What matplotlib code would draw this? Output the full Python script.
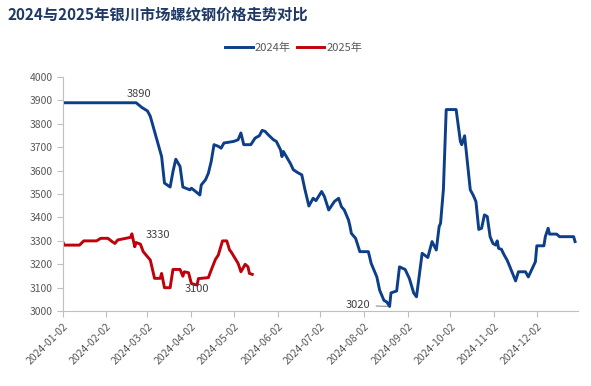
import matplotlib
matplotlib.use("Agg")
import matplotlib.pyplot as plt
import matplotlib.dates as mdates
import pandas as pd

plt.rcParams['font.family'] = ['Noto Sans CJK SC', 'DejaVu Sans']

title = "2024与2025年银川市场螺纹钢价格走势对比"
series_names = ["2024年", "2025年"]

dates_2024 = ["2024-01-02", "2024-02-23", "2024-02-27", "2024-03-02", "2024-03-04", "2024-03-08",
              "2024-03-12", "2024-03-14", "2024-03-18", "2024-03-20", "2024-03-22", "2024-03-25",
              "2024-03-27", "2024-04-01", "2024-04-02", "2024-04-05", "2024-04-08", "2024-04-09",
              "2024-04-12", "2024-04-14", "2024-04-16", "2024-04-18", "2024-04-21", "2024-04-23",
              "2024-04-25", "2024-05-02", "2024-05-05", "2024-05-07", "2024-05-09", "2024-05-14",
              "2024-05-17", "2024-05-20", "2024-05-22", "2024-05-24", "2024-05-27", "2024-05-30",
              "2024-06-01", "2024-06-04", "2024-06-05", "2024-06-06", "2024-06-11", "2024-06-13",
              "2024-06-16", "2024-06-19", "2024-06-21", "2024-06-24", "2024-06-27", "2024-06-29",
              "2024-07-03", "2024-07-05", "2024-07-08", "2024-07-12", "2024-07-15", "2024-07-17",
              "2024-07-19", "2024-07-22", "2024-07-23", "2024-07-24", "2024-07-27", "2024-07-30",
              "2024-08-05", "2024-08-07", "2024-08-11", "2024-08-13", "2024-08-16", "2024-08-18",
              "2024-08-20", "2024-08-21", "2024-08-25", "2024-08-27", "2024-08-31", "2024-09-03",
              "2024-09-06", "2024-09-08", "2024-09-12", "2024-09-16", "2024-09-19", "2024-09-22",
              "2024-09-24", "2024-09-25", "2024-09-27", "2024-09-29", "2024-10-06", "2024-10-09",
              "2024-10-10", "2024-10-12", "2024-10-16", "2024-10-18", "2024-10-20", "2024-10-22",
              "2024-10-24", "2024-10-26", "2024-10-28", "2024-10-30", "2024-11-01", "2024-11-03",
              "2024-11-04", "2024-11-05", "2024-11-07", "2024-11-09", "2024-11-11", "2024-11-13",
              "2024-11-17", "2024-11-19", "2024-11-24", "2024-11-26", "2024-12-01", "2024-12-02",
              "2024-12-07", "2024-12-08", "2024-12-10", "2024-12-11", "2024-12-16", "2024-12-18",
              "2024-12-28", "2024-12-29"]
prices_2024 = [3890, 3890, 3870, 3855, 3832, 3746,
               3660, 3547, 3530, 3596, 3649, 3618,
               3530, 3518, 3525, 3511, 3496, 3539,
               3561, 3589, 3639, 3711, 3704, 3696,
               3718, 3725, 3732, 3761, 3711, 3711,
               3739, 3749, 3772, 3768, 3749, 3732,
               3725, 3689, 3660, 3682, 3630, 3604,
               3592, 3582, 3525, 3449, 3482, 3472,
               3511, 3489, 3432, 3468, 3482, 3446,
               3432, 3389, 3364, 3332, 3311, 3254,
               3254, 3204, 3146, 3089, 3046, 3039,
               3020, 3078, 3086, 3189, 3178, 3139,
               3078, 3061, 3247, 3229, 3297, 3261,
               3361, 3375, 3518, 3861, 3861, 3725,
               3711, 3749, 3518, 3496, 3468, 3349,
               3354, 3411, 3404, 3318, 3289, 3282,
               3300, 3268, 3264, 3239, 3218, 3189,
               3129, 3168, 3168, 3146, 3211, 3279,
               3279, 3318, 3354, 3329, 3329, 3318,
               3318, 3297]

dates_2025 = ["2025-01-02", "2025-01-03", "2025-01-14", "2025-01-17", "2025-01-26", "2025-01-29",
              "2025-02-03", "2025-02-06", "2025-02-08", "2025-02-10", "2025-02-19", "2025-02-20",
              "2025-02-22", "2025-02-23", "2025-02-26", "2025-02-28", "2025-03-05", "2025-03-08",
              "2025-03-12", "2025-03-13", "2025-03-15", "2025-03-19", "2025-03-21", "2025-03-26",
              "2025-03-28", "2025-03-29", "2025-04-01", "2025-04-03", "2025-04-07", "2025-04-08",
              "2025-04-15", "2025-04-17", "2025-04-20", "2025-04-22", "2025-04-25", "2025-04-28",
              "2025-04-30", "2025-05-01", "2025-05-06", "2025-05-08", "2025-05-10", "2025-05-11",
              "2025-05-13", "2025-05-14", "2025-05-16"]
prices_2025 = [3300, 3282, 3282, 3300, 3300, 3311,
               3311, 3297, 3289, 3304, 3315, 3330,
               3275, 3293, 3286, 3254, 3218, 3140,
               3140, 3161, 3100, 3100, 3178, 3178,
               3149, 3168, 3164, 3118, 3111, 3139,
               3143, 3175, 3221, 3239, 3300, 3300,
               3261, 3254, 3204, 3168, 3189, 3200,
               3189, 3161, 3157]

tick_dates = ["2024-01-02", "2024-02-02", "2024-03-02", "2024-04-02", "2024-05-02", "2024-06-02",
              "2024-07-02", "2024-08-02", "2024-09-02", "2024-10-02", "2024-11-02", "2024-12-02"]
y_ticks = [3000, 3100, 3200, 3300, 3400, 3500, 3600, 3700, 3800, 3900, 4000]

# annotations: (date, value)
ann_3890 = ("2024-02-23", 3890)
ann_3330 = ("2025-02-20", 3330)
ann_3100 = ("2025-03-19", 3100)
ann_3020 = ("2024-08-20", 3020)

BLUE = "#0D3E8A"
RED = "#C0000B"
GRAY_TXT = "#595959"
AX_GRAY = "#BFBFBF"

x24 = pd.to_datetime(dates_2024)
# align 2025 onto the same (2024) calendar axis by offset from the year start
x25 = pd.to_datetime(dates_2025) - pd.Timestamp("2025-01-02") + pd.Timestamp("2024-01-02")

def to_axis_2025(d):
    return pd.Timestamp(d) - pd.Timestamp("2025-01-02") + pd.Timestamp("2024-01-02")

fig = plt.figure(figsize=(5.91, 3.86), dpi=100)
ax = fig.add_axes([0.1058, 0.194, 0.872, 0.6065])

l1, = ax.plot(x24, prices_2024, color=BLUE, lw=2.1, solid_joinstyle='round', label=series_names[0])
l2, = ax.plot(x25, prices_2025, color=RED, lw=2.1, solid_joinstyle='round', label=series_names[1])

ax.set_ylim(3000, 4000)
ax.set_yticks(y_ticks)
ax.set_xlim(pd.Timestamp("2024-01-02"), pd.Timestamp("2024-12-31"))
ax.set_xticks(pd.to_datetime(tick_dates))
ax.xaxis.set_major_formatter(mdates.DateFormatter("%Y-%m-%d"))

for s in ["top", "right"]:
    ax.spines[s].set_visible(False)
for s in ["left", "bottom"]:
    ax.spines[s].set_color(AX_GRAY)
    ax.spines[s].set_linewidth(0.8)
ax.tick_params(axis='both', colors=AX_GRAY, length=4, width=0.8, labelcolor=GRAY_TXT, labelsize=7.5)
ax.tick_params(axis='y', pad=3)
for lab in ax.get_xticklabels():
    lab.set_rotation(45)
    lab.set_ha('right')
    lab.set_va('top')
    lab.set_rotation_mode('anchor')

akw = dict(textcoords='offset pixels', fontsize=8, color="#404040")
ax.annotate(str(ann_3890[1]), (pd.Timestamp(ann_3890[0]), ann_3890[1]), xytext=(3, 9),
            ha='center', va='center', **akw)
ax.annotate(str(ann_3330[1]), (to_axis_2025(ann_3330[0]), ann_3330[1]), xytext=(26, -1),
            ha='center', va='center', **akw)
ax.annotate(str(ann_3100[1]), (to_axis_2025(ann_3100[0]), ann_3100[1]), xytext=(27, -1),
            ha='center', va='center', **akw)
ax.annotate(str(ann_3020[1]), (pd.Timestamp(ann_3020[0]), ann_3020[1]), xytext=(-19, 1),
            ha='right', va='center',
            arrowprops=dict(arrowstyle='-', color="#7F7F7F", lw=0.7, shrinkA=2, shrinkB=1), **akw)

fig.text(0.012, 0.963, title, fontsize=11, fontweight='bold', color="#1F3864",
         ha='left', va='center')

fig.legend(handles=[l1, l2], labels=series_names, loc='center', bbox_to_anchor=(0.497, 0.876),
           ncol=2, frameon=False, fontsize=8, labelcolor=GRAY_TXT, handlelength=2.5,
           handletextpad=0.2, columnspacing=0.5, borderpad=0)

fig.savefig("out.png", dpi=100)
